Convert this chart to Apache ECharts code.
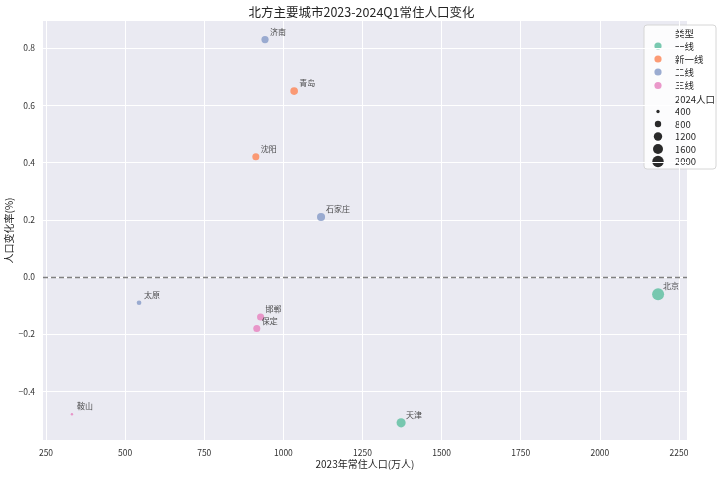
<!DOCTYPE html>
<html>
<head>
<meta charset="utf-8">
<script src="https://cdn.jsdelivr.net/npm/echarts@6/dist/echarts.min.js"></script>
<style>html,body{margin:0;padding:0;background:#fff;}#c{width:723px;height:477px;}</style>
</head>
<body>
<div id="c"></div>
<script>
var cities = ['北京','天津','济南','青岛','沈阳','石家庄','太原','邯郸','保定','鞍山'];
var cityTypes = ['一线','一线','二线','新一线','新一线','二线','二线','三线','三线','三线'];
var pop2023 = [2184, 1372, 942, 1034, 913, 1119, 544, 928, 916, 332];
var changeRate = [-0.06, -0.51, 0.83, 0.65, 0.42, 0.21, -0.09, -0.14, -0.18, -0.48];
var pop2024 = [2183, 1365, 950, 1041, 917, 1121, 544, 927, 914, 330];
var typeOrder = ['一线','新一线','二线','三线'];
var typeColors = ['#66c2a5','#fc8d62','#8da0cb','#e78ac3'];
var sizeLegendValues = [400, 800, 1200, 1600, 2000];
var xTicks = [250, 500, 750, 1000, 1250, 1500, 1750, 2000, 2250];
var yTicks = [-0.4, -0.2, 0.0, 0.2, 0.4, 0.6, 0.8];

var FONT = '"Noto Sans CJK SC", "DejaVu Sans", sans-serif';
var pMin = Math.min.apply(null, pop2024), pMax = Math.max.apply(null, pop2024);
function diam(p) {
  var t = (p - pMin) / (pMax - pMin);
  return 12 * Math.sqrt(0.04 + 0.96 * t);
}

var series = typeOrder.map(function (t, ti) {
  var data = [];
  for (var i = 0; i < cities.length; i++) {
    if (cityTypes[i] === t) data.push([pop2023[i], changeRate[i], pop2024[i], cities[i]]);
  }
  return {
    type: 'scatter', name: t, data: data,
    symbolSize: function (v) { return diam(v[2]); },
    itemStyle: { color: typeColors[ti], opacity: 0.88 },
    label: {
      show: true, position: 'inside', offset: [5, -4], align: 'left', verticalAlign: 'bottom',
      formatter: function (p) { return p.data[3]; },
      color: '#333', fontSize: 8, fontFamily: FONT
    },
    emphasis: { disabled: true },
    z: 3
  };
});
series[0].markLine = {
  silent: true, symbol: 'none', label: { show: false },
  lineStyle: { color: '#808080', type: [5, 3], width: 1.3 },
  data: [{ yAxis: 0 }]
};

// legend via graphic
var lg = [];
var lx = 644, ly = 25;
lg.push({ type: 'rect', shape: { x: lx, y: ly, width: 72, height: 144, r: 3 },
  style: { fill: 'rgba(255,255,255,0.85)', stroke: '#d6d6d6', lineWidth: 1 } });
var rowY = [33, 46, 59, 72, 85.5, 99, 111.5, 124, 136.5, 149, 161.5];
var txt = function (s, y) {
  return { type: 'text', style: { text: s, x: 675, y: y, fill: '#262626', font: '9.5px ' + FONT, textVerticalAlign: 'middle', textAlign: 'left' } };
};
lg.push(txt('类型', rowY[0]));
typeOrder.forEach(function (t, i) {
  lg.push({ type: 'circle', shape: { cx: 658, cy: rowY[i + 1], r: 3.6 }, style: { fill: typeColors[i], opacity: 0.88 } });
  lg.push(txt(t, rowY[i + 1]));
});
lg.push(txt('2024人口', rowY[5]));
sizeLegendValues.forEach(function (v, i) {
  lg.push({ type: 'circle', shape: { cx: 658, cy: rowY[i + 6], r: diam(v) / 2 }, style: { fill: '#2a2a2a' } });
  lg.push(txt(String(v), rowY[i + 6]));
});

var chart = echarts.init(document.getElementById('c'), null, { renderer: 'canvas' });
chart.setOption({
  backgroundColor: '#fff',
  animation: false,
  title: {
    text: '北方主要城市2023-2024Q1常住人口变化', left: 'center', top: 3, padding: [3, 0, 3, 7],
    textStyle: { fontSize: 12.5, fontWeight: 'normal', color: '#262626', fontFamily: FONT }
  },
  grid: { left: 43, top: 21, width: 644, height: 419, show: true, backgroundColor: '#eaeaf2', borderWidth: 0,
    containLabel: false, outerBoundsMode: 'none' },
  xAxis: {
    type: 'value', min: 240.5, max: 2275.3,
    name: '2023年常住人口(万人)', nameLocation: 'middle', nameGap: 19, nameMoveOverlap: false,
    nameTextStyle: { fontSize: 10, color: '#262626', fontFamily: FONT },
    axisLine: { show: false }, axisTick: { show: false, customValues: xTicks },
    axisLabel: { customValues: xTicks, fontSize: 8.5, color: '#333', fontFamily: FONT, margin: 9,
      formatter: function (v) { return String(v); } },
    splitLine: { show: true, lineStyle: { color: '#fff', width: 1 } }
  },
  yAxis: {
    type: 'value', min: -0.570, max: 0.895,
    name: '人口变化率(%)', nameLocation: 'middle', nameGap: 29, nameRotate: 90, nameMoveOverlap: false,
    nameTextStyle: { fontSize: 10, color: '#262626', fontFamily: FONT },
    axisLine: { show: false }, axisTick: { show: false, customValues: yTicks },
    axisLabel: { customValues: yTicks, fontSize: 8.5, color: '#333', fontFamily: FONT, margin: 8,
      formatter: function (v) { return v.toFixed(1).replace('-', '−'); } },
    splitLine: { show: true, lineStyle: { color: '#fff', width: 1 } }
  },
  graphic: lg,
  series: series
});
</script>
</body>
</html>
